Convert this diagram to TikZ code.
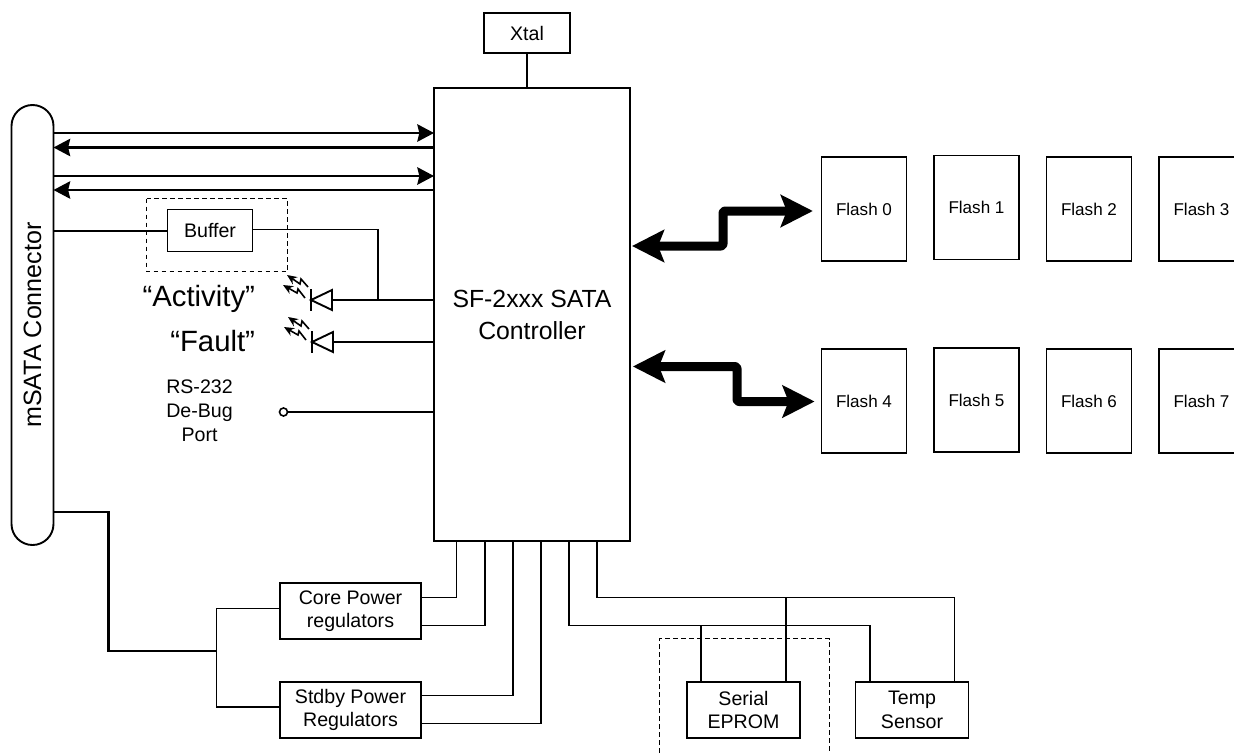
\documentclass[tikz,border=0pt]{standalone}
\usepackage{fontspec}
\setmainfont{Liberation Sans}
\usepackage{tikz}
\usetikzlibrary{arrows.meta, calc}
\def\px{0.75pt}
\tikzset{
  box/.style={draw, line width=1.9*\px, inner sep=0pt, outer sep=0pt, align=center, font=\fontsize{14.7}{17.5}\selectfont},
  flash/.style={box, minimum width=85*\px, minimum height=104*\px, font=\fontsize{12.8}{15}\selectfont},
  regbox/.style={box, minimum width=141*\px, minimum height=56*\px},
  wire/.style={line width=1.9*\px, line join=miter},
  dashbox/.style={dashed, line width=0.9*\px, dash pattern=on 3.6pt off 2.4pt},
  busto/.style={line width=2pt, -{Stealth[length=12.5pt, width=13pt, inset=1.5pt]}},
  bigbus/.style={line width=6.75pt, line join=round, rounded corners=1.5pt,
    {Stealth[length=24pt, width=24pt, inset=4.5pt]}-{Stealth[length=24pt, width=24pt, inset=4.5pt]}},
  lbl/.style={inner sep=0pt, outer sep=0pt, align=center},
  led/.pic={
    \draw[wire] (0,-11) -- (0,11);
    \draw[wire] (0,0) -- (21,-10) -- (21,10) -- cycle;
    \coordinate (-k) at (21,0);
    \draw[line width=1.2pt, -{Stealth[length=7.5pt, width=6.5pt]}] (-3,-13) -- (-10,-21) -- (-11,-16) -- (-24,-25);
    \draw[line width=1.2pt, -{Stealth[length=7.5pt, width=6.5pt]}] (-6,-2) -- (-13,-11) -- (-14,-7) -- (-28,-15);
  },
}
\begin{document}
\begin{tikzpicture}[x=0.75pt, y=-0.75pt, >=Stealth]
  \path[use as bounding box, clip] (0,0) rectangle (1234,753);
  % Main blocks
  \node[box, minimum width=196*\px, minimum height=453*\px, font=\fontsize{18.6}{24}\selectfont] (ctrl) at (532,314.5) {SF-2xxx SATA\\Controller};
  \node[box, minimum width=42*\px, minimum height=440*\px, rounded corners=15.75pt, font=\fontsize{18.8}{22}\selectfont] (conn) at (32.5,325) {\rotatebox{90}{mSATA Connector}};
  \node[box, minimum width=86*\px, minimum height=40*\px] (xtal) at (527,33) {Xtal};
  \node[box, minimum width=85*\px, minimum height=42*\px] (buffer) at (210,230.5) {Buffer};
  \draw[wire] (xtal) -- (ctrl.north -| xtal);
  % Flash devices
  \node[flash] (flash0) at (864,209) {Flash 0};
  \node[flash] (flash1) at (976.5,207.5) {Flash 1};
  \node[flash] (flash2) at (1089,209) {Flash 2};
  \node[flash] (flash3) at (1201.5,209) {Flash 3};
  \node[flash] (flash4) at (864,401) {Flash 4};
  \node[flash] (flash5) at (976.5,400) {Flash 5};
  \node[flash] (flash6) at (1089,401) {Flash 6};
  \node[flash] (flash7) at (1201.5,401) {Flash 7};
  \draw[bigbus, shorten <=1.5pt, shorten >=6.5pt] (ctrl.east |- 0,246) -- (723,246) -- (723,211) -- (flash0.west |- 0,211);
  \draw[bigbus, shorten <=2.2pt, shorten >=5.2pt] (ctrl.east |- 0,366.5) -- (737,366.5) -- (737,401.5) -- (flash4.west |- 0,401.5);
  % SATA lanes
  \draw[busto] (conn.east |- 0,133) -- (ctrl.west |- 0,133);
  \draw[busto] (ctrl.west |- 0,147.5) -- (conn.east |- 0,147.5);
  \draw[busto] (conn.east |- 0,176) -- (ctrl.west |- 0,176);
  \draw[busto] (ctrl.west |- 0,190) -- (conn.east |- 0,190);
  % Activity and fault LEDs
  \draw[dashbox] (146.5,198.5) rectangle (287.5,271.5);
  \draw[wire] (conn.east |- 0,231) -- (buffer.west |- 0,231);
  \pic (ledA) at (311,300) {led};
  \pic (ledB) at (312,342) {led};
  \draw[wire] (ledA-k) -- (ctrl.west |- ledA-k);
  \draw[wire] (ledB-k) -- (ctrl.west |- ledB-k);
  \coordinate (tap) at (378,300);
  \draw[wire] (buffer.east |- 0,229.5) -| (tap);
  \node[lbl, anchor=east, font=\fontsize{22}{26}\selectfont] (activity) at (255,299) {“Activity”};
  \node[lbl, anchor=east, font=\fontsize{22}{26}\selectfont] (fault) at (255,341) {“Fault”};
  % De-bug port
  \node[lbl, font=\fontsize{14.7}{18}\selectfont] (rslabel) at (199.5,411) {RS-232\\De-Bug\\Port};
  \node[draw, circle, line width=1.2pt, inner sep=0pt, minimum size=6pt] (port) at (283.5,412) {};
  \draw[wire] (port) -- (ctrl.west |- port);
  % Power
  \node[regbox] (core) at (350.5,611) {Core Power\\regulators};
  \node[regbox] (stdby) at (350.5,710) {Stdby Power\\Regulators};
  \coordinate (trunk) at (216.5,651);
  \draw[line width=1.7pt] (conn.east |- 0,512) -- (108.5,512) -- (108.5,651) -- (trunk);
  \draw[wire] (core.west |- 0,608.5) -| (trunk) |- (stdby.west |- 0,707);
  \draw[wire] (core.east |- 0,597.5) -| (ctrl.south -| 456.5,0);
  \draw[wire] (core.east |- 0,625.5) -| (ctrl.south -| 485,0);
  \draw[wire] (stdby.east |- 0,695.5) -| (ctrl.south -| 513,0);
  \draw[wire] (stdby.east |- 0,723.5) -| (ctrl.south -| 541,0);
  % EPROM and temp sensor
  \node[box, minimum width=113*\px, minimum height=56*\px] (eprom) at (743.5,710) {Serial\\EPROM};
  \node[box, minimum width=113*\px, minimum height=56*\px] (temp) at (912,710) {Temp\\Sensor};
  \draw[dashbox] (659.5,753) -- (659.5,638.5) -- (829.5,638.5) -- (829.5,753);
  \draw[wire] (ctrl.south -| 569,0) |- (870,625.5) -- (temp.north -| 870,0);
  \draw[wire] (701,625.5) -- (eprom.north -| 701,0);
  \draw[wire] (ctrl.south -| 597,0) |- (954.5,597.5) -- (temp.north -| 954.5,0);
  \draw[wire] (786,597.5) -- (eprom.north -| 786,0);
\end{tikzpicture}
\end{document}
